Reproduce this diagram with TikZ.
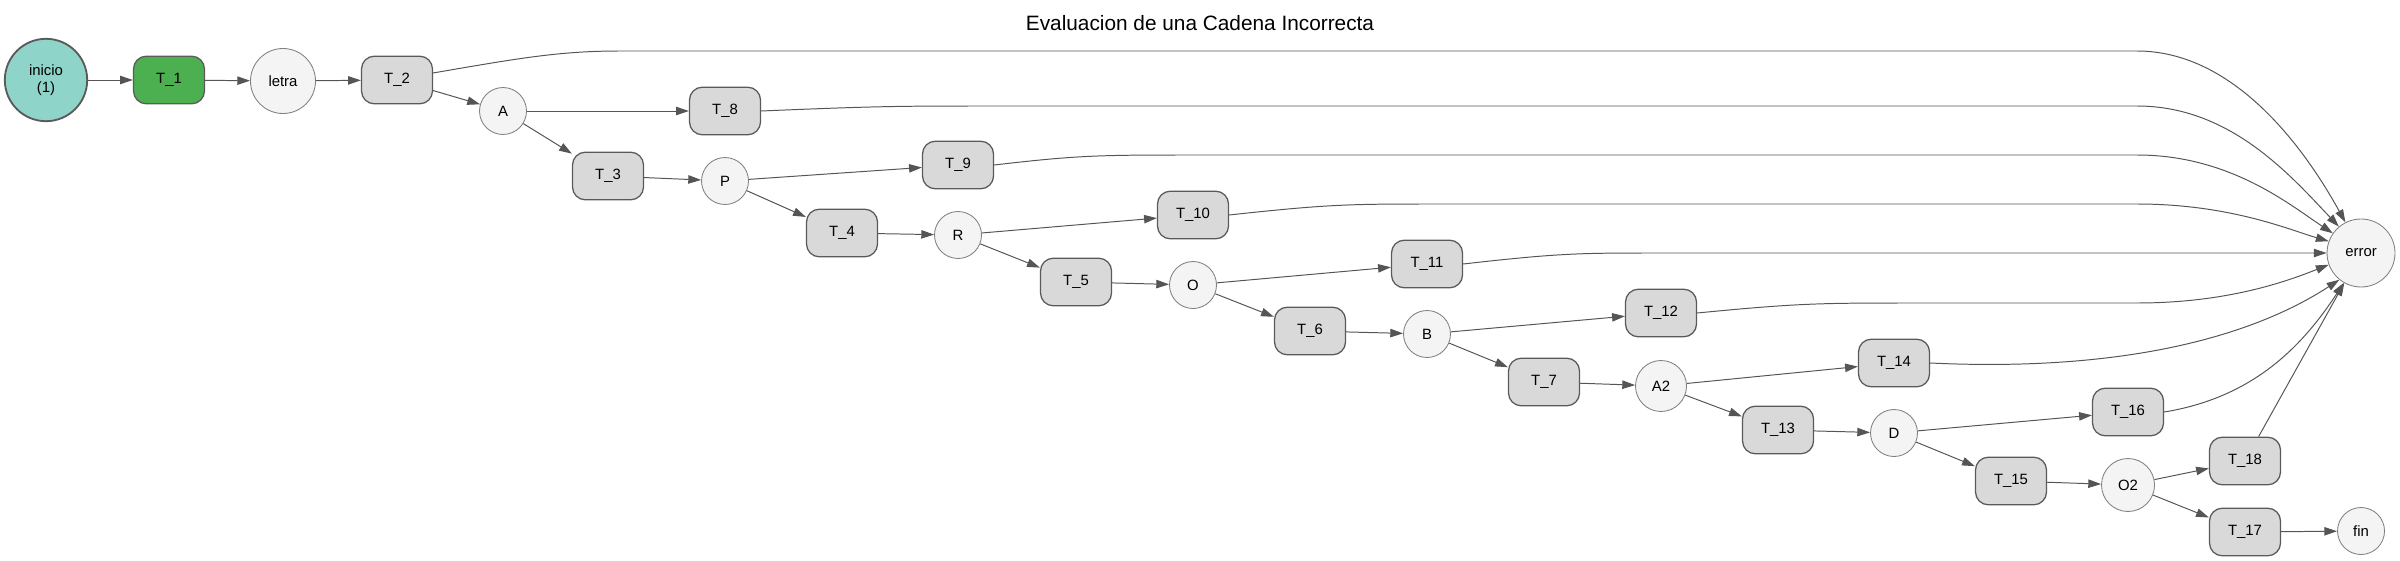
\documentclass[tikz,border=0pt]{standalone}
\usepackage{fontspec}
\setmainfont{Liberation Sans}
\usetikzlibrary{arrows.meta}

\definecolor{inicioC}{HTML}{8FD4C8}
\definecolor{verdeC}{HTML}{4CAF50}
\definecolor{transC}{HTML}{D9D9D9}
\definecolor{estadoC}{HTML}{F4F4F4}
\definecolor{bordeC}{HTML}{5A5A5A}
\definecolor{lineaC}{HTML}{555555}

\begin{document}
\begin{tikzpicture}[x=0.25mm, y=0.25mm]
    % 设置样式
    \tikzset{
        trans/.style={rectangle, rounded corners=3.2mm, fill=transC, draw=bordeC, line width=0.9pt,
            minimum width=17.75mm, minimum height=11.9mm, inner sep=0pt,
            font=\fontsize{10.6}{12}\selectfont},
        estado/.style={circle, fill=estadoC, draw=gray, line width=0.6pt, inner sep=0pt,
            font=\fontsize{10.6}{12}\selectfont},
        flecha/.style={draw=lineaC, line width=0.7pt, -{Triangle[length=3.2mm,width=2.1mm]}},
    }
    \useasboundingbox (0,0) rectangle (2400,-561);

    % 标题
    \node[font=\fontsize{14.8}{17}\selectfont] (titulo) at (1200,-23) {Evaluacion de una Cadena Incorrecta};

    % 起点和 T_1
    \node[circle, fill=inicioC, draw=bordeC, line width=1.3pt, minimum size=20.6mm, inner sep=0pt,
        align=center, font=\fontsize{10.6}{12}\selectfont] (ini) at (46,-80) {inicio\\(1)};
    \node[trans, fill=verdeC] (T1) at (169,-80) {T\_1};

    % 状态节点 (圆)
    \foreach \n/\x/\y/\d in {letra/283/81/16.25, A/503/111/11.75, P/725/181/11.75, R/958/235/11.75,
        O/1193/285/11.75, B/1427/334/11.75, A2/1661/386/12.75, D/1894/433/11.75,
        O2/2128/485/13.25, error/2361/253/17, fin/2361/531/11.75} {
        \node[estado, minimum size=\d mm] (\n) at (\x,-\y) {\n};
    }

    % 转移节点 (圆角矩形)
    \foreach \k/\x/\y in {2/397/80, 3/608/176, 4/842/233, 5/1076/282, 6/1310/331, 7/1544/382,
        8/725/111, 9/958/165, 10/1193/215, 11/1427/264, 12/1661/313, 13/1778/430,
        14/1894/363, 15/2011/481, 16/2128/412, 17/2245/532, 18/2245/461} {
        \node[trans] (T\k) at (\x,-\y) {T\_\k};
    }

    % 直线箭头
    \foreach \a/\b in {ini/T1, T1/letra, letra/T2, T2/A, A/T8, A/T3, T3/P, P/T9, P/T4, T4/R,
        R/T10, R/T5, T5/O, O/T11, O/T6, T6/B, B/T12, B/T7, T7/A2, A2/T14, A2/T13, T13/D,
        D/T16, D/T15, T15/O2, O2/T18, O2/T17, T17/fin, T18/error} {
        \draw[flecha] (\a) -- (\b);
    }

    % 到 error 的曲线
    \draw[flecha] (T2.11) .. controls (520,-58) and (560,-51) .. (620,-51) -- (2137,-51)
        .. controls (2230,-51) and (2300,-140) .. (error.117);
    \draw[flecha] (T8.east) .. controls (880,-106) and (900,-106) .. (1000,-106) -- (2137,-106)
        .. controls (2230,-106) and (2290,-175) .. (error.130);
    \draw[flecha] (T9.east) .. controls (1080,-155) and (1100,-155) .. (1200,-155) -- (2137,-155)
        .. controls (2230,-155) and (2290,-205) .. (error.145);
    \draw[flecha] (T10.east) .. controls (1330,-204) and (1350,-204) .. (1440,-204) -- (2137,-204)
        .. controls (2230,-204) and (2290,-230) .. (error.160);
    \draw[flecha] (T11.east) .. controls (1560,-253) and (1580,-253) .. (1660,-253) -- (error.180);
    \draw[flecha] (T12.east) .. controls (1800,-303) and (1820,-303) .. (1920,-303) -- (2137,-303)
        .. controls (2230,-303) and (2290,-280) .. (error.200);
    \draw[flecha] (T14.east) .. controls (2120,-372) and (2250,-338) .. (error.231);
    \draw[flecha] (T16.east) .. controls (2250,-398) and (2300,-350) .. (error.240);
\end{tikzpicture}
\end{document}
